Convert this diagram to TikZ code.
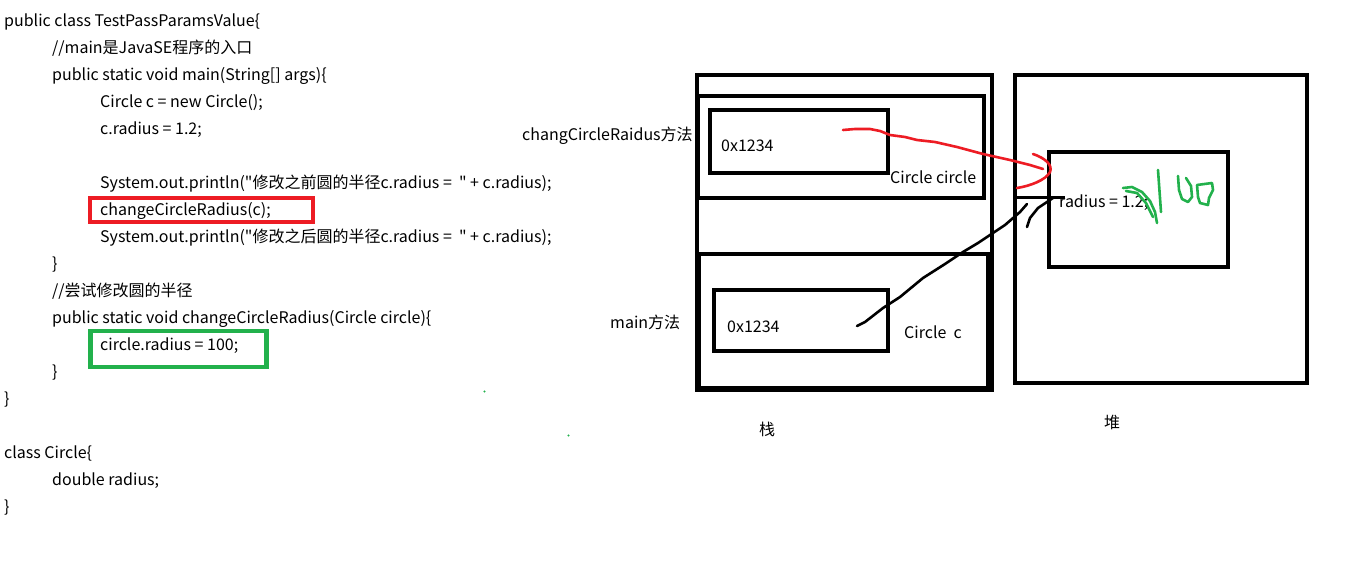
\documentclass[tikz,border=0pt]{standalone}
\usepackage{fontspec}
\setmainfont{Noto Sans CJK SC}[Ligatures=TeXOff]
\definecolor{pred}{HTML}{ED1C24}
\definecolor{pgreen}{HTML}{22B14C}
\tikzset{
  code/.style={anchor=west, inner sep=0pt, yshift=-1.5pt, font=\fontsize{16}{18}\selectfont},
  lbl/.style={anchor=west, inner sep=0pt, font=\fontsize{16}{18}\selectfont},
  frame/.style={draw=black, line width=4.5pt},
  thinframe/.style={draw=black, line width=4pt},
  redscrib/.style={draw=pred, line width=2.6pt, line cap=round, line join=round},
  blkscrib/.style={draw=black, line width=2.6pt, line cap=round, line join=round},
  grnscrib/.style={draw=pgreen, line width=2.6pt, line cap=round, line join=round},
}
\begin{document}
\begin{tikzpicture}[x=1pt,y=-1pt]
\useasboundingbox[fill=white] (0,0) rectangle (1347,565);
% ---- code ----
\node[code] (l1) at (4,20) {public class TestPassParamsValue\{};
\node[code] (l2) at (52,47) {//main是JavaSE程序的入口};
\node[code] (l3) at (52,74) {public static void main(String[] args)\{};
\node[code] (l4) at (100,101) {Circle c = new Circle();};
\node[code] (l5) at (100,128) {c.radius = 1.2;};
\node[code] (l6) at (100,182) {System.out.println("修改之前圆的半径c.radius =\ \ " + c.radius);};
\node[code] (l7) at (100,209) {changeCircleRadius(c);};
\node[code] (l8) at (100,236) {System.out.println("修改之后圆的半径c.radius =\ \ " + c.radius);};
\node[code] (l9) at (52,263) {\}};
\node[code] (l10) at (52,290) {//尝试修改圆的半径};
\node[code] (l11) at (52,317) {public static void changeCircleRadius(Circle circle)\{};
\node[code] (l12) at (100,344) {circle.radius = 100;};
\node[code] (l13) at (52,371) {\}};
\node[code] (l14) at (4,398) {\}};
\node[code] (l15) at (4,452) {class Circle\{};
\node[code] (l16) at (52,479) {double radius;};
\node[code] (l17) at (4,506) {\}};
% highlight boxes
\draw[draw=pred, line width=4pt] (90,197.5) rectangle (313,222);
\draw[draw=pgreen, line width=4.5pt] (90.5,331) rectangle (266.5,367);
% stray dots
\fill[pgreen] (484.5,391.5) circle (1.2);
\fill[pgreen] (568.5,435.5) circle (1.2);
% ---- stack ----
\draw[frame] (697,75) rectangle (992,390);
\draw[thinframe] (698,96) rectangle (984,198);
\draw[thinframe] (699,254) rectangle (988,388);
\draw[frame] (989,254) -- (989,390);
\draw[thinframe] (710,110) rectangle (888,173);
\draw[thinframe] (714,290) rectangle (888,351);
% ---- heap ----
\draw[frame] (1015,75) rectangle (1307,383);
\draw[thinframe] (1049,152) rectangle (1228,267);
\draw[draw=black, line width=3pt] (1015,197) -- (1065,197);
% ---- labels ----
\node[lbl] (t1) at (522,136) {changCircleRaidus方法};
\node[lbl] (t2) at (610,322) {main方法};
\node[lbl] (t3) at (721,146) {0x1234};
\node[lbl] (t4) at (890,177) {Circle circle};
\node[lbl] (t5) at (727,327) {0x1234};
\node[lbl] (t6) at (904,332) {Circle\ \ c};
\node[lbl] (t7) at (1059,203) {radius = 1.2;};
\node[lbl] (t8) at (759,429) {栈};
\node[lbl] (t9) at (1104,422) {堆};
% ---- scribbles ----
\coordinate (rs) at (843,130);
\coordinate (re) at (1043,169);
\draw[redscrib] (rs) -- (855,129) -- (870,129) -- (880,131) -- (890,135) -- (905,137) -- (917,140) -- (935,142) -- (957,147) -- (983,154) -- (1010,160) -- (1030,165) -- (re);
\draw[redscrib] (1033,154) .. controls (1045,158) and (1053,165) .. (1050,172) .. controls (1046,180) and (1030,186) .. (1017,188);
\coordinate (bs) at (857,326);
\coordinate (be) at (1027,204);
\draw[blkscrib] (bs) -- (865,322) -- (883,308) -- (900,297) -- (923,278) -- (945,264) -- (963,252) -- (978,243) -- (990,235) -- (1005,225) -- (1020,212) -- (be);
\draw[blkscrib] (1027,227) -- (1030,218) -- (1038,208) -- (1047,202) -- (1053,198);
\draw[grnscrib] (1123,188) -- (1132,187) -- (1142,192) -- (1150,201) -- (1155,212) -- (1157,223);
\draw[grnscrib] (1126,191) -- (1137,193) -- (1146,203) -- (1153,217);
\draw[grnscrib] (1158,170) -- (1161,212);
\draw[grnscrib] (1178,176) -- (1179,190) -- (1182,199) -- (1188,202) -- (1192,197) -- (1191,186) -- (1186,178);
\draw[grnscrib] (1198,197) -- (1197,185) -- (1212,183) -- (1213,190) -- (1209,198) -- (1208,205) -- (1200,203) -- cycle;
\end{tikzpicture}
\end{document}
